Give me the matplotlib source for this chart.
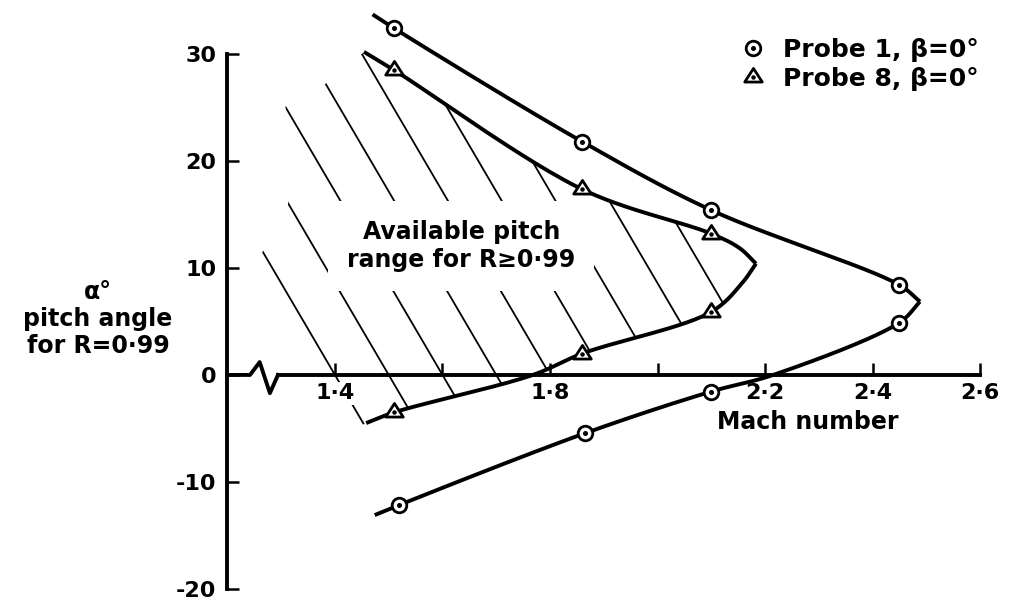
import numpy as np
import matplotlib
matplotlib.use("Agg")
import matplotlib.pyplot as plt
from matplotlib.path import Path
from matplotlib.patches import Polygon

plt.rcParams['font.family'] = 'DejaVu Sans'
plt.rcParams['font.weight'] = 'bold'
plt.rcParams['axes.unicode_minus'] = False

# test points, probe 1 and probe 8 (beta = 0)
p1_mach = [1.51, 1.86, 2.10, 2.45, 2.45, 2.10, 1.865, 1.52]
p1_alpha = [32.4, 21.8, 15.4, 8.4, 4.9, -1.55, -5.45, -12.15]
p8_mach = [1.51, 1.86, 2.10, 2.10, 1.86, 1.51]
p8_alpha = [28.5, 17.35, 13.2, 5.9, 2.0, -3.5]

# faired curves, each branch traced from its left end to the nose
p1_upper_mach = [1.47, 1.51, 1.86, 2.10, 2.45, 2.488]
p1_upper_alpha = [33.7, 32.4, 21.8, 15.4, 8.4, 6.85]
p1_lower_mach = [1.474, 1.52, 1.865, 2.10, 2.215, 2.45, 2.488]
p1_lower_alpha = [-13.1, -12.15, -5.45, -1.55, 0.0, 4.9, 6.85]
p8_upper_mach = [1.454, 1.51, 1.86, 2.10, 2.153, 2.183]
p8_upper_alpha = [30.2, 28.5, 17.35, 13.2, 11.84, 10.4]
p8_lower_mach = [1.458, 1.51, 1.768, 1.86, 2.10, 2.157, 2.183]
p8_lower_alpha = [-4.5, -3.5, 0.0, 2.0, 5.9, 8.57, 10.4]

# open left edge of the hatched pitch range
edge_mach = [1.45, 1.262, 1.313, 1.308, 1.385]
edge_alpha = [-4.7, 11.2, 16.0, 25.1, 27.3]

xticks = [1.4, 1.6, 1.8, 2.0, 2.2, 2.4, 2.6]
xlabels = ['1·4', '', '1·8', '', '2·2', '2·4', '2·6']
yticks = [-20, -10, 0, 10, 20, 30]
ylabels = ['-20', '-10', '0', '10', '20', '30']

SX, SY = 537.5, 10.7   # rough px per unit, only used to fair the curves


def fair(mach, alpha, n=30):
    # centripetal Catmull-Rom through the traced points
    P = np.column_stack([np.asarray(mach) * SX, np.asarray(alpha) * SY])
    P = np.vstack([2 * P[0] - P[1], P, 2 * P[-1] - P[-2]])
    out = []
    for i in range(len(P) - 3):
        p0, p1, p2, p3 = P[i:i + 4]
        t0 = 0.0
        t1 = t0 + np.linalg.norm(p1 - p0) ** 0.5
        t2 = t1 + np.linalg.norm(p2 - p1) ** 0.5
        t3 = t2 + np.linalg.norm(p3 - p2) ** 0.5
        t = np.linspace(t1, t2, n, endpoint=False)[:, None]
        a1 = (t1 - t) / (t1 - t0) * p0 + (t - t0) / (t1 - t0) * p1
        a2 = (t2 - t) / (t2 - t1) * p1 + (t - t1) / (t2 - t1) * p2
        a3 = (t3 - t) / (t3 - t2) * p2 + (t - t2) / (t3 - t2) * p3
        b1 = (t2 - t) / (t2 - t0) * a1 + (t - t0) / (t2 - t0) * a2
        b2 = (t3 - t) / (t3 - t1) * a2 + (t - t1) / (t3 - t1) * a3
        out.append((t2 - t) / (t2 - t1) * b1 + (t - t1) / (t2 - t1) * b2)
    out.append(P[-2][None])
    pts = np.vstack(out)
    return pts[:, 0] / SX, pts[:, 1] / SY


fig = plt.figure(figsize=(10.21, 6.06), dpi=100)
ax = fig.add_axes([0, 0, 1, 1])
ax.set_xlim(0.777, 2.676)
ax.set_ylim(-21.6, 35.05)

for s in ['top', 'right']:
    ax.spines[s].set_visible(False)
ax.spines['left'].set_position(('data', 1.2))
ax.spines['left'].set_bounds(-20, 30)
ax.spines['bottom'].set_position(('data', 0))
ax.spines['bottom'].set_bounds(1.294, 2.6)
for s in ['left', 'bottom']:
    ax.spines[s].set_linewidth(2.8)

# broken axis symbol between the origin and the scale
ax.plot([1.2, 1.242, 1.260, 1.279, 1.294], [0, 0, 1.2, -1.7, 0],
        color='black', lw=2.8, clip_on=False, zorder=2.5)

ax.set_xticks(xticks, labels=xlabels)
ax.set_yticks(yticks, labels=ylabels)
ax.tick_params(direction='in', length=8.5, width=1.8, labelsize=16)
ax.tick_params(axis='x', pad=6)
ax.tick_params(axis='y', pad=8)
for lbl in ax.get_xticklabels():
    lbl.set_bbox(dict(facecolor='white', edgecolor='none', pad=1))

ax.set_xlabel('Mach number', fontsize=17, fontweight='bold')
ax.xaxis.set_label_coords(808 / 1021, 1 - 410 / 606)
ax.set_ylabel('α°\npitch angle\nfor R=0·99', fontsize=17, fontweight='bold',
              rotation=0, ha='center', va='center', linespacing=1.15)
ax.yaxis.set_label_coords(98 / 1021, 1 - 319 / 606)

# faired curves
u1 = fair(p1_upper_mach, p1_upper_alpha)
l1 = fair(p1_lower_mach, p1_lower_alpha)
u8 = fair(p8_upper_mach, p8_upper_alpha)
l8 = fair(p8_lower_mach, p8_lower_alpha)
for cx, cy in [u1, l1, u8, l8]:
    ax.plot(cx, cy, color='black', lw=2.8, clip_on=False, zorder=3,
            solid_capstyle='butt')

# hatching of the available pitch range
outline = np.vstack([
    np.column_stack(u8),
    np.column_stack(l8)[::-1],
    np.column_stack([edge_mach, edge_alpha]),
])
region = Polygon(outline, closed=True, facecolor='none', edgecolor='none',
                 transform=ax.transData)
ax.add_patch(region)
hatch_a = np.array([-8.0, 34.0])
for k in range(9):
    m0 = 1.4 + 0.1 * k
    ln, = ax.plot(m0 - 0.01166 * hatch_a, hatch_a, color='black', lw=1.3,
                  zorder=1)
    ln.set_clip_path(region)

ax.text(1.635, 12.05, 'Available pitch\nrange for R≥0·99', fontsize=17,
        fontweight='bold', ha='center', va='center', linespacing=1.25,
        zorder=2, bbox=dict(boxstyle='square,pad=0.8', facecolor='white',
                            edgecolor='none'))

# markers
tri = Path([(-1, -0.52), (1, -0.52), (0, 1.03), (-1, -0.52)],
           [Path.MOVETO, Path.LINETO, Path.LINETO, Path.CLOSEPOLY])
c_open, = ax.plot(p1_mach, p1_alpha, ls='none', marker='o', ms=10.5,
                  mfc='white', mec='black', mew=2.0, clip_on=False, zorder=4)
c_dot, = ax.plot(p1_mach, p1_alpha, ls='none', marker='o', ms=2.6,
                 color='black', clip_on=False, zorder=5)
t_open, = ax.plot(p8_mach, p8_alpha, ls='none', marker=tri, ms=13,
                  mfc='white', mec='black', mew=2.0, clip_on=False, zorder=4)
t_dot, = ax.plot(p8_mach, p8_alpha, ls='none', marker='o', ms=2.2,
                 color='black', clip_on=False, zorder=5)

ax.legend([(c_open, c_dot), (t_open, t_dot)],
          ['Probe 1, β=0°', 'Probe 8, β=0°'],
          loc='upper left', bbox_to_anchor=(740 / 1021, 1 - 38 / 606),
          frameon=False, prop={'size': 18, 'weight': 'bold'},
          handlelength=1.0, handletextpad=0.7, labelspacing=0.2,
          borderpad=0, borderaxespad=0)

fig.savefig('out.png', dpi=100)
